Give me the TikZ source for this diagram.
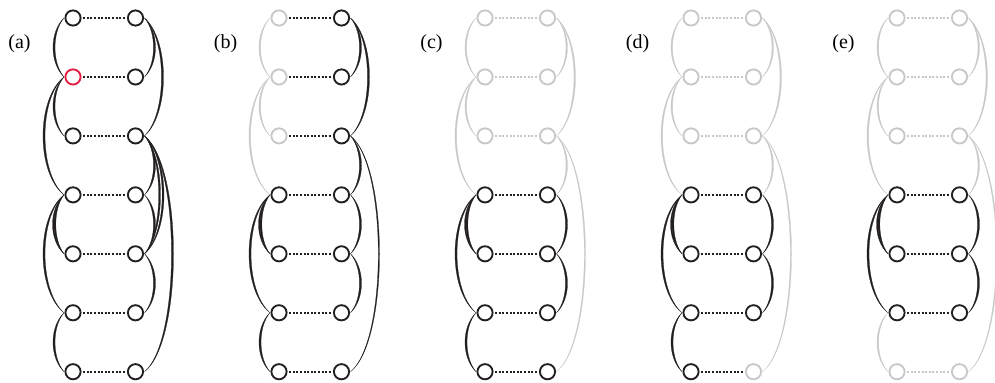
\documentclass[tikz,border=0pt]{standalone}
\usepackage{fontspec}
\setmainfont{Liberation Serif}
\usetikzlibrary{calc}
\definecolor{ink}{RGB}{35,31,32}
\definecolor{fade}{RGB}{200,200,200}
\definecolor{redc}{RGB}{225,30,65}
\newcommand\tapered[7]{%
  \pgfmathsetmacro\tpc{(8*#4-18)/6}%
  \pgfmathsetmacro\tpi{\tpc-#7/0.75}%
  \path[fill=#6,draw=#6,line width=0.2pt]
    ($(#1)+(#3*9,0)$) .. controls ($(#1)+(#3*\tpc,#5)$) and ($(#2)+(#3*\tpc,-#5)$) .. ($(#2)+(#3*9,0)$)
    .. controls ($(#2)+(#3*\tpi,-#5)$) and ($(#1)+(#3*\tpi,#5)$) .. cycle;}
\tikzset{
  pt/.style={circle,minimum size=11.4pt,inner sep=0pt,line width=1.4pt,fill=white},
  dotline/.style={line width=1.3pt,dash pattern=on 1.5pt off 1.2pt,shorten <=1.2pt,shorten >=1.2pt},
  lab/.style={font=\fontsize{15}{17}\selectfont,inner sep=0pt}
}
\begin{document}
\begin{tikzpicture}[x=0.75pt,y=-0.75pt]
\useasboundingbox (0,0) rectangle (995,382);
% ---------------- panel (a)
\node[lab] (la) at (19.5,44) {(a)};
\foreach \i/\cl/\cr/\cd in {1/ink/ink/ink,2/redc/ink/ink,3/ink/ink/ink,4/ink/ink/ink,5/ink/ink/ink,6/ink/ink/ink,7/ink/ink/ink}{
  \node[pt,draw=\cl] (a-L\i) at (73,{18+58.95*(\i-1)}) {};
  \node[pt,draw=\cr] (a-R\i) at (135.5,{18+58.95*(\i-1)}) {};
  \draw[dotline,\cd] (a-L\i) -- (a-R\i);
}
\tapered{a-L1}{a-L2}{-1}{20}{14}{ink}{2}
\tapered{a-L2}{a-L3}{-1}{20}{14}{ink}{2}
\tapered{a-L2}{a-L4}{-1}{30}{22}{ink}{2}
\tapered{a-L4}{a-L5}{-1}{19}{14}{ink}{1.8}
\tapered{a-L4}{a-L5}{-1}{20.5}{14}{ink}{1.5}
\tapered{a-L4}{a-L6}{-1}{30}{22}{ink}{2}
\tapered{a-L6}{a-L7}{-1}{20}{14}{ink}{2}
\tapered{a-R1}{a-R2}{1}{20}{14}{ink}{2}
\tapered{a-R1}{a-R3}{1}{28}{22}{ink}{2}
\tapered{a-R3}{a-R4}{1}{20}{14}{ink}{2}
\tapered{a-R3}{a-R5}{1}{25}{22}{ink}{1.8}
\tapered{a-R3}{a-R5}{1}{28.5}{22}{ink}{1.8}
\tapered{a-R3}{a-R7}{1}{38}{30}{ink}{2}
\tapered{a-R4}{a-R5}{1}{20}{14}{ink}{2}
\tapered{a-R5}{a-R6}{1}{20}{14}{ink}{2}
% ---------------- panel (b)
\node[lab] (lb) at (225.5,44) {(b)};
\foreach \i/\cl/\cr/\cd in {1/fade/ink/ink,2/fade/ink/ink,3/fade/ink/ink,4/ink/ink/ink,5/ink/ink/ink,6/ink/ink/ink,7/ink/ink/ink}{
  \node[pt,draw=\cl] (b-L\i) at (279,{18+58.95*(\i-1)}) {};
  \node[pt,draw=\cr] (b-R\i) at (341.5,{18+58.95*(\i-1)}) {};
  \draw[dotline,\cd] (b-L\i) -- (b-R\i);
}
\tapered{b-L1}{b-L2}{-1}{20}{14}{fade}{1.5}
\tapered{b-L2}{b-L3}{-1}{20}{14}{fade}{1.5}
\tapered{b-L2}{b-L4}{-1}{30}{22}{fade}{1.5}
\tapered{b-L4}{b-L5}{-1}{19}{14}{ink}{1.8}
\tapered{b-L4}{b-L5}{-1}{20.5}{14}{ink}{1.5}
\tapered{b-L4}{b-L6}{-1}{30}{22}{ink}{2}
\tapered{b-L6}{b-L7}{-1}{20}{14}{ink}{2}
\tapered{b-R1}{b-R2}{1}{20}{14}{ink}{2}
\tapered{b-R1}{b-R3}{1}{28}{22}{ink}{2}
\tapered{b-R3}{b-R4}{1}{20}{14}{ink}{2}
\tapered{b-R3}{b-R7}{1}{38}{30}{ink}{1.2}
\tapered{b-R4}{b-R5}{1}{20}{14}{ink}{2}
\tapered{b-R5}{b-R6}{1}{20}{14}{ink}{2}
% ---------------- panel (c)
\node[lab] (lc) at (431.5,44) {(c)};
\foreach \i/\cl/\cr/\cd in {1/fade/fade/fade,2/fade/fade/fade,3/fade/fade/fade,4/ink/ink/ink,5/ink/ink/ink,6/ink/ink/ink,7/ink/ink/ink}{
  \node[pt,draw=\cl] (c-L\i) at (485,{18+58.95*(\i-1)}) {};
  \node[pt,draw=\cr] (c-R\i) at (547.5,{18+58.95*(\i-1)}) {};
  \draw[dotline,\cd] (c-L\i) -- (c-R\i);
}
\tapered{c-L1}{c-L2}{-1}{20}{14}{fade}{1.5}
\tapered{c-L2}{c-L3}{-1}{20}{14}{fade}{1.5}
\tapered{c-L2}{c-L4}{-1}{30}{22}{fade}{1.5}
\tapered{c-L4}{c-L5}{-1}{19}{14}{ink}{1.8}
\tapered{c-L4}{c-L5}{-1}{20.5}{14}{ink}{1.5}
\tapered{c-L4}{c-L6}{-1}{30}{22}{ink}{2}
\tapered{c-L6}{c-L7}{-1}{20}{14}{ink}{2}
\tapered{c-R1}{c-R2}{1}{20}{14}{fade}{1.5}
\tapered{c-R1}{c-R3}{1}{28}{22}{fade}{1.5}
\tapered{c-R3}{c-R4}{1}{20}{14}{fade}{1.5}
\tapered{c-R3}{c-R7}{1}{38}{30}{fade}{1.2}
\tapered{c-R4}{c-R5}{1}{20}{14}{ink}{2}
\tapered{c-R5}{c-R6}{1}{20}{14}{ink}{2}
% ---------------- panel (d)
\node[lab] (ld) at (637.5,44) {(d)};
\foreach \i/\cl/\cr/\cd in {1/fade/fade/fade,2/fade/fade/fade,3/fade/fade/fade,4/ink/ink/ink,5/ink/ink/ink,6/ink/ink/ink,7/ink/fade/ink}{
  \node[pt,draw=\cl] (d-L\i) at (691,{18+58.95*(\i-1)}) {};
  \node[pt,draw=\cr] (d-R\i) at (753.5,{18+58.95*(\i-1)}) {};
  \draw[dotline,\cd] (d-L\i) -- (d-R\i);
}
\tapered{d-L1}{d-L2}{-1}{20}{14}{fade}{1.5}
\tapered{d-L2}{d-L3}{-1}{20}{14}{fade}{1.5}
\tapered{d-L2}{d-L4}{-1}{30}{22}{fade}{1.5}
\tapered{d-L4}{d-L5}{-1}{19}{14}{ink}{1.8}
\tapered{d-L4}{d-L5}{-1}{20.5}{14}{ink}{1.5}
\tapered{d-L4}{d-L6}{-1}{30}{22}{ink}{2}
\tapered{d-L6}{d-L7}{-1}{20}{14}{ink}{2}
\tapered{d-R1}{d-R2}{1}{20}{14}{fade}{1.5}
\tapered{d-R1}{d-R3}{1}{28}{22}{fade}{1.5}
\tapered{d-R3}{d-R4}{1}{20}{14}{fade}{1.5}
\tapered{d-R3}{d-R7}{1}{38}{30}{fade}{1.2}
\tapered{d-R4}{d-R5}{1}{20}{14}{ink}{2}
\tapered{d-R5}{d-R6}{1}{20}{14}{ink}{2}
% ---------------- panel (e)
\node[lab] (le) at (843.5,44) {(e)};
\foreach \i/\cl/\cr/\cd in {1/fade/fade/fade,2/fade/fade/fade,3/fade/fade/fade,4/ink/ink/ink,5/ink/ink/ink,6/ink/ink/ink,7/fade/fade/fade}{
  \node[pt,draw=\cl] (e-L\i) at (897,{18+58.95*(\i-1)}) {};
  \node[pt,draw=\cr] (e-R\i) at (959.5,{18+58.95*(\i-1)}) {};
  \draw[dotline,\cd] (e-L\i) -- (e-R\i);
}
\tapered{e-L1}{e-L2}{-1}{20}{14}{fade}{1.5}
\tapered{e-L2}{e-L3}{-1}{20}{14}{fade}{1.5}
\tapered{e-L2}{e-L4}{-1}{30}{22}{fade}{1.5}
\tapered{e-L4}{e-L5}{-1}{19}{14}{ink}{1.8}
\tapered{e-L4}{e-L5}{-1}{20.5}{14}{ink}{1.5}
\tapered{e-L4}{e-L6}{-1}{30}{22}{ink}{2}
\tapered{e-L6}{e-L7}{-1}{20}{14}{fade}{1.5}
\tapered{e-R1}{e-R2}{1}{20}{14}{fade}{1.5}
\tapered{e-R1}{e-R3}{1}{28}{22}{fade}{1.5}
\tapered{e-R3}{e-R4}{1}{20}{14}{fade}{1.5}
\tapered{e-R3}{e-R7}{1}{38}{30}{fade}{1.2}
\tapered{e-R4}{e-R5}{1}{20}{14}{ink}{2}
\tapered{e-R5}{e-R6}{1}{20}{14}{ink}{2}
\end{tikzpicture}
\end{document}
